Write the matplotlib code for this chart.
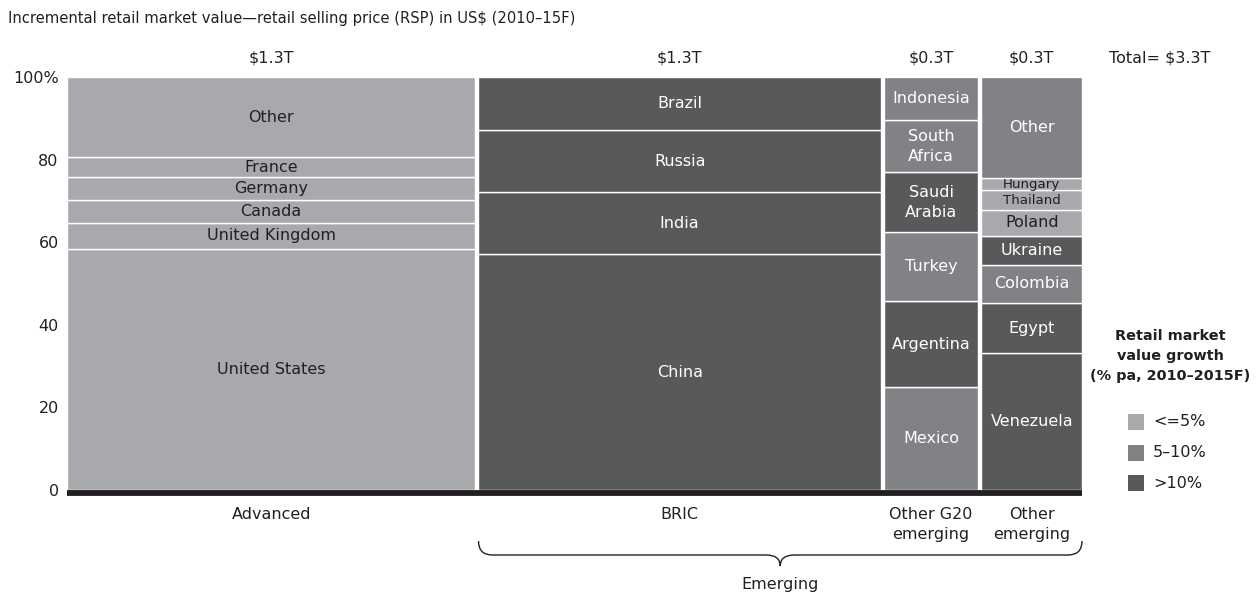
import matplotlib
matplotlib.use('Agg')
import matplotlib.pyplot as plt
from matplotlib.path import Path
from matplotlib.patches import PathPatch, Rectangle

plt.rcParams['font.family'] = ['DejaVu Sans']

# ---------------- data ----------------
groups = ['Advanced', 'BRIC', 'Other G20\nemerging', 'Other\nemerging']
group_values = [1.34, 1.32, 0.31, 0.33]          # incremental value, US$ trillion (column widths)
group_labels = ['$1.3T', '$1.3T', '$0.3T', '$0.3T']
total_label = 'Total= $3.3T'

adv_countries = ['United States', 'United Kingdom', 'Canada', 'Germany', 'France', 'Other']
adv_shares = [58.4, 6.3, 5.5, 5.5, 4.9, 19.4]
adv_growth = ['low', 'low', 'low', 'low', 'low', 'low']

bric_countries = ['China', 'India', 'Russia', 'Brazil']
bric_shares = [57.1, 15.0, 15.0, 12.9]
bric_growth = ['high', 'high', 'high', 'high']

g20_countries = ['Mexico', 'Argentina', 'Turkey', 'Saudi\nArabia', 'South\nAfrica', 'Indonesia']
g20_shares = [24.9, 20.9, 16.7, 14.4, 12.7, 10.4]
g20_growth = ['mid', 'high', 'mid', 'high', 'mid', 'mid']

oth_countries = ['Venezuela', 'Egypt', 'Colombia', 'Ukraine', 'Poland', 'Thailand', 'Hungary', 'Other']
oth_shares = [33.1, 12.1, 9.4, 6.9, 6.3, 4.8, 2.9, 24.5]
oth_growth = ['high', 'high', 'mid', 'high', 'low', 'low', 'low', 'mid']

growth_classes = ['low', 'mid', 'high']
growth_labels = ['<=5%', '5\u201310%', '>10%']
legend_title = 'Retail market\nvalue growth\n(% pa, 2010\u20132015F)'
chart_title = 'Incremental retail market value\u2014retail selling price (RSP) in US$ (2010\u201315F)'
brace_label = 'Emerging'

# ---------------- style ----------------
colors = {'low': '#a7a9ac', 'mid': '#808285', 'high': '#58595b'}
text_colors = {'low': '#231f20', 'mid': 'white', 'high': 'white'}
small_labels = {'Hungary', 'Thailand'}
ink = '#231f20'
FS = 11.5

W, H = 1260, 600
fig = plt.figure(figsize=(W / 100, H / 100), dpi=100)
ax_l, ax_r, ax_t, ax_b = 67, 1082, 77, 490
ax = fig.add_axes([ax_l / W, 1 - ax_b / H, (ax_r - ax_l) / W, (ax_b - ax_t) / H])

gap = 0.01
xmax = sum(group_values) + gap * (len(group_values) - 1)
ax.set_xlim(0, xmax)
ax.set_ylim(0, 100)
px_per_y = (ax_b - ax_t) / 100.0
px_per_x = (ax_r - ax_l) / xmax

def ypx(p):
    """figure pixel row -> data y"""
    return (ax_b - p) / px_per_y

columns = [
    (adv_countries, adv_shares, adv_growth),
    (bric_countries, bric_shares, bric_growth),
    (g20_countries, g20_shares, g20_growth),
    (oth_countries, oth_shares, oth_growth),
]

lefts = []
x = 0.0
for w in group_values:
    lefts.append(x)
    x += w + gap

for (names, shares, growth), left, w in zip(columns, lefts, group_values):
    bottom = 0.0
    for name, s, g in zip(names, shares, growth):
        ax.bar(left, s, width=w, bottom=bottom, align='edge', color=colors[g],
               edgecolor='white', linewidth=1.0)
        fs = 9.6 if name in small_labels else FS
        ax.text(left + w / 2, bottom + s / 2, name, ha='center', va='center',
                fontsize=fs, color=text_colors[g], linespacing=1.4)
        bottom += s

# baseline
ax.plot([0, xmax], [ypx(493), ypx(493)], color=ink, lw=4.2, solid_capstyle='butt',
        clip_on=False, zorder=5)

# axes styling
for sp in ax.spines.values():
    sp.set_visible(False)
ax.set_xticks([])
ax.set_yticks([0, 20, 40, 60, 80, 100])
ax.set_yticklabels(['0', '20', '40', '60', '80', '100%'])
ax.tick_params(axis='y', length=0, pad=6, labelsize=FS, labelcolor=ink)

# column totals and group names
for lab, g, left, w in zip(group_labels, groups, lefts, group_values):
    ax.text(left + w / 2, ypx(58), lab, ha='center', va='center', fontsize=FS,
            color=ink, clip_on=False)
    ax.text(left + w / 2, ypx(507), g, ha='center', va='top', fontsize=FS,
            color=ink, clip_on=False, linespacing=1.4)
fig.text(1160 / W, 1 - 58 / H, total_label, ha='center', va='center', fontsize=FS, color=ink)

# title
fig.text(8 / W, 1 - 18 / H, chart_title, ha='left', va='center', fontsize=10.6, color=ink)

# brace under emerging groups
x0 = lefts[1]
x1 = lefts[3] + group_values[3]
xm = (x0 + x1) / 2
dx = 14 / px_per_x
yt, yh, ytip = ypx(541), ypx(555), ypx(566)
verts = [
    (x0, yt), (x0, yh), (x0 + dx, yh),
    (xm - dx, yh),
    (xm, yh), (xm, ytip),
    (xm, yh), (xm + dx, yh),
    (x1 - dx, yh),
    (x1, yh), (x1, yt),
]
codes = [Path.MOVETO, Path.CURVE3, Path.CURVE3,
         Path.LINETO,
         Path.CURVE3, Path.CURVE3,
         Path.CURVE3, Path.CURVE3,
         Path.LINETO,
         Path.CURVE3, Path.CURVE3]
ax.add_patch(PathPatch(Path(verts, codes), facecolor='none', edgecolor=ink,
                       lw=1.0, clip_on=False))
ax.text(xm, ypx(585), brace_label, ha='center', va='center', fontsize=FS,
        color=ink, clip_on=False)

# legend
fig.text(1170 / W, 1 - 356 / H, legend_title, ha='center', va='center', fontsize=10.4,
         fontweight='bold', color=ink, linespacing=1.55)
for i, (gc, gl) in enumerate(zip(growth_classes, growth_labels)):
    cy = 422 + i * 30.5
    fig.patches.append(Rectangle((1128 / W, 1 - (cy + 8) / H), 16 / W, 16 / H,
                                 transform=fig.transFigure, facecolor=colors[gc],
                                 edgecolor='none'))
    fig.text(1153 / W, 1 - cy / H, gl, ha='left', va='center', fontsize=FS, color=ink)

fig.savefig('out.png', dpi=100, facecolor='white')
